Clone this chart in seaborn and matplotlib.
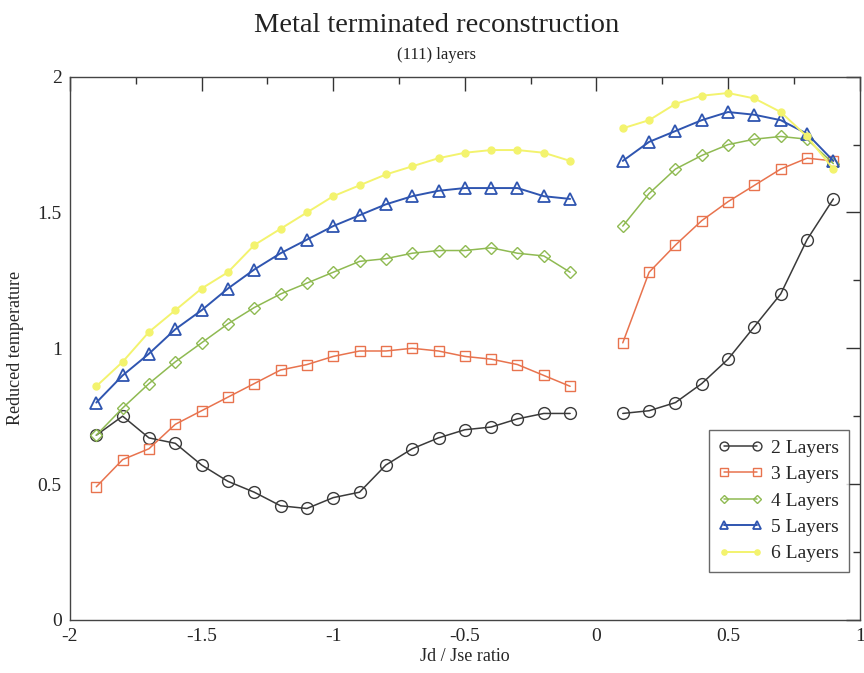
import numpy as np
import pandas as pd
import seaborn as sns
import matplotlib
matplotlib.use("Agg")
import matplotlib.pyplot as plt
from matplotlib.lines import Line2D
from matplotlib.ticker import MultipleLocator

# ---- data ----
x_left = [-1.9, -1.8, -1.7, -1.6, -1.5, -1.4, -1.3, -1.2, -1.1, -1.0,
          -0.9, -0.8, -0.7, -0.6, -0.5, -0.4, -0.3, -0.2, -0.1]
x_right = [0.1, 0.2, 0.3, 0.4, 0.5, 0.6, 0.7, 0.8, 0.9]

layers2_left = [0.68, 0.75, 0.67, 0.65, 0.57, 0.51, 0.47, 0.42, 0.41, 0.45,
                0.47, 0.57, 0.63, 0.67, 0.70, 0.71, 0.74, 0.76, 0.76]
layers2_right = [0.76, 0.77, 0.80, 0.87, 0.96, 1.08, 1.20, 1.40, 1.55]

layers3_left = [0.49, 0.59, 0.63, 0.72, 0.77, 0.82, 0.87, 0.92, 0.94, 0.97,
                0.99, 0.99, 1.00, 0.99, 0.97, 0.96, 0.94, 0.90, 0.86]
layers3_right = [1.02, 1.28, 1.38, 1.47, 1.54, 1.60, 1.66, 1.70, 1.69]

layers4_left = [0.68, 0.78, 0.87, 0.95, 1.02, 1.09, 1.15, 1.20, 1.24, 1.28,
                1.32, 1.33, 1.35, 1.36, 1.36, 1.37, 1.35, 1.34, 1.28]
layers4_right = [1.45, 1.57, 1.66, 1.71, 1.75, 1.77, 1.78, 1.77, 1.68]

layers5_left = [0.80, 0.90, 0.98, 1.07, 1.14, 1.22, 1.29, 1.35, 1.40, 1.45,
                1.49, 1.53, 1.56, 1.58, 1.59, 1.59, 1.59, 1.56, 1.55]
layers5_right = [1.69, 1.76, 1.80, 1.84, 1.87, 1.86, 1.84, 1.79, 1.69]

layers6_left = [0.86, 0.95, 1.06, 1.14, 1.22, 1.28, 1.38, 1.44, 1.50, 1.56,
                1.60, 1.64, 1.67, 1.70, 1.72, 1.73, 1.73, 1.72, 1.69]
layers6_right = [1.81, 1.84, 1.90, 1.93, 1.94, 1.92, 1.87, 1.78, 1.66]

series_names = ["2 Layers", "3 Layers", "4 Layers", "5 Layers", "6 Layers"]
series_left = [layers2_left, layers3_left, layers4_left, layers5_left, layers6_left]
series_right = [layers2_right, layers3_right, layers4_right, layers5_right, layers6_right]

title = "Metal terminated reconstruction"
subtitle = "(111) layers"
xlabel = "Jd / Jse ratio"
ylabel = "Reduced temperature"

# ---- build tidy table ----
rows = []
for name, yl, yr in zip(series_names, series_left, series_right):
    for xv, yv in zip(x_left, yl):
        rows.append((name, "left", xv, yv))
    for xv, yv in zip(x_right, yr):
        rows.append((name, "right", xv, yv))
df = pd.DataFrame(rows, columns=["series", "segment", "x", "y"])

styles = {
    "2 Layers": dict(color="#3a3a3a", marker="o", ms=8.5, mfc="none", lw=1.1, mew=1.0),
    "3 Layers": dict(color="#e8734e", marker="s", ms=7, mfc="none", lw=1.1, mew=1.0),
    "4 Layers": dict(color="#8fba52", marker="D", ms=6, mfc="none", lw=1.1, mew=1.0),
    "5 Layers": dict(color="#2f55b0", marker="^", ms=8, mfc="none", lw=1.4, mew=1.3),
    "6 Layers": dict(color="#f3f36e", marker="o", ms=5, mfc="#f3f36e", lw=1.4, mew=1.0),
}

sns.set_theme(style="white")
plt.rcParams["font.family"] = ["Liberation Serif", "DejaVu Serif"]

fig = plt.figure(figsize=(8.64, 6.73), dpi=100)
ax = fig.add_axes([0.081, 0.079, 0.914, 0.807])

for name in series_names:
    st = styles[name]
    sub = df[df["series"] == name]
    sns.lineplot(data=sub, x="x", y="y", units="segment", estimator=None,
                 color=st["color"], marker=st["marker"], markersize=st["ms"],
                 markerfacecolor=st["mfc"], markeredgecolor=st["color"],
                 markeredgewidth=st["mew"], linewidth=st["lw"], ax=ax,
                 legend=False, sort=False)

ax.set_xlim(-2, 1)
ax.set_ylim(0, 2)
ax.xaxis.set_minor_locator(MultipleLocator(0.25))
ax.yaxis.set_minor_locator(MultipleLocator(0.25))
ax.set_xticks([-2, -1.5, -1, -0.5, 0, 0.5, 1])
ax.set_xticklabels(["-2", "-1.5", "-1", "-0.5", "0", "0.5", "1"])
ax.set_yticks([0, 0.5, 1, 1.5, 2])
ax.set_yticklabels(["0", "0.5", "1", "1.5", "2"])
ax.tick_params(which="major", direction="in", length=10, width=1, color="#333333",
               top=True, right=True, labelsize=14, pad=6)
ax.tick_params(which="minor", direction="in", length=5, width=1, color="#333333",
               top=True, right=True)
for sp in ax.spines.values():
    sp.set_color("#444444")
    sp.set_linewidth(1.0)

ax.set_xlabel(xlabel, fontsize=13, labelpad=2)
ax.set_ylabel(ylabel, fontsize=13, labelpad=10)

fig.text(0.505, 0.962, title, ha="center", va="center", fontsize=20.5, color="#222222")
fig.text(0.505, 0.918, subtitle, ha="center", va="center", fontsize=12, color="#222222")

handles = []
for name in series_names:
    st = styles[name]
    handles.append(Line2D([], [], color=st["color"], marker=st["marker"],
                          markersize=st["ms"] * 0.75, markerfacecolor=st["mfc"],
                          markeredgecolor=st["color"], markeredgewidth=st["mew"],
                          linewidth=st["lw"]))
leg = ax.legend(handles, series_names, loc="lower right", bbox_to_anchor=(0.986, 0.088),
                fontsize=14, frameon=True, fancybox=False, edgecolor="#444444",
                handlelength=2.3, handletextpad=0.4, borderpad=0.5, labelspacing=0.45,
                borderaxespad=0, numpoints=2)
leg.get_frame().set_linewidth(1.0)

fig.savefig("out.png", dpi=100, facecolor="white")
